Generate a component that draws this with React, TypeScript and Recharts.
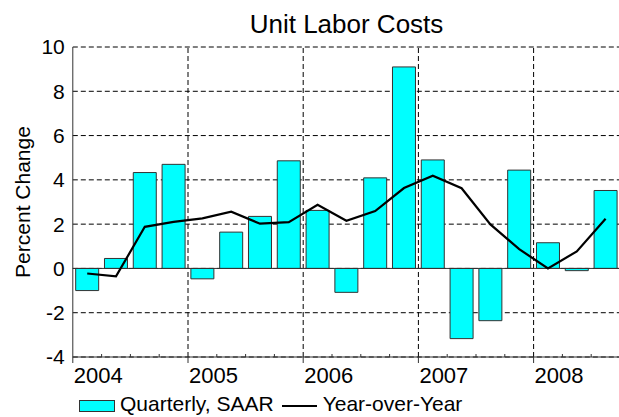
import { ComposedChart, Bar, Line, XAxis, YAxis, CartesianGrid, ReferenceLine, Legend } from 'recharts';

const quarters = [
    '2004 Q1', '2004 Q2', '2004 Q3', '2004 Q4',
    '2005 Q1', '2005 Q2', '2005 Q3', '2005 Q4',
    '2006 Q1', '2006 Q2', '2006 Q3', '2006 Q4',
    '2007 Q1', '2007 Q2', '2007 Q3', '2007 Q4',
    '2008 Q1', '2008 Q2', '2008 Q3',
];
const quarterlySaar = [-1.0, 0.45, 4.33, 4.7, -0.47, 1.64, 2.35, 4.86, 2.62, -1.08, 4.09, 9.1, 4.9, -3.17, -2.36, 4.44, 1.16, -0.1, 3.52];
const yearOverYear = [-0.23, -0.36, 1.88, 2.1, 2.26, 2.56, 2.02, 2.09, 2.87, 2.15, 2.59, 3.63, 4.19, 3.62, 1.99, 0.87, 0.0, 0.77, 2.24];
const yearStarts = ['2005 Q1', '2006 Q1', '2007 Q1', '2008 Q1'];
const yTicks = [-4, -2, 0, 2, 4, 6, 8, 10];

const data = quarters.map((q, i) => ({ quarter: q, saar: quarterlySaar[i], yoy: yearOverYear[i] }));

const FONT = '"Liberation Sans", Arial, sans-serif';

function QuarterTick(props: any) {
    const { x, y, payload } = props;
    const half = payload && payload.offset ? payload.offset : 14.4;
    const x0 = x - half;
    const label: string = payload.value;
    const isYearStart = label.endsWith('Q1');
    return (
        <g>
            {isYearStart ? (
                <line x1={x0} x2={x0} y1={y} y2={y + 6} stroke="#333" />
            ) : (
                <line x1={x0} x2={x0} y1={y - 3} y2={y} stroke="#333" />
            )}
            {isYearStart && (
                <text x={x0 + 1} y={y + 26} textAnchor="start" fontSize={22} fill="#000">
                    {label.slice(0, 4)}
                </text>
            )}
        </g>
    );
}

function AxisLabel(props: any) {
    const { viewBox } = props;
    const cx = viewBox.x + 16.7;
    const cy = viewBox.y + viewBox.height / 2;
    return (
        <text x={cx} y={cy} transform={`rotate(-90 ${cx} ${cy})`} textAnchor="middle" fontSize={21} fill="#000">
            Percent Change
        </text>
    );
}

function LegendContent(props: any) {
    const { payload } = props;
    return (
        <div style={{ display: 'flex', alignItems: 'center', height: 22, paddingLeft: 79, fontSize: 21, fontFamily: FONT, color: '#000' }}>
            {(payload || []).map((entry: any, i: number) => (
                <div key={i} style={{ display: 'flex', alignItems: 'center' }}>
                    {entry.type === 'line' ? (
                        <span style={{ display: 'inline-block', width: 35, height: 0, borderTop: '2px solid #000', margin: '0 6px 0 8px', position: 'relative', top: 2 }} />
                    ) : (
                        <span style={{ display: 'inline-block', width: 34, height: 10, background: '#00ffff', border: '1px solid #333', marginRight: 5, position: 'relative', top: 2 }} />
                    )}
                    <span>{entry.value}</span>
                </div>
            ))}
        </div>
    );
}

export default function App() {
    return (
        <div style={{ position: 'absolute', left: 0, top: 0, width: 619, height: 417, overflow: 'hidden', background: '#fff', fontFamily: FONT }}>
            <div style={{ position: 'absolute', left: 73, top: 9, width: 547, textAlign: 'center', fontSize: 26, lineHeight: '30px', color: '#000', zIndex: 2 }}>
                Unit Labor Costs
            </div>
            <ComposedChart width={630} height={417} data={data} margin={{ top: 47, right: 10, bottom: 2, left: 12.8 }} barCategoryGap="10%">
                <CartesianGrid vertical={false} stroke="#000" strokeDasharray="5 3" />
                {yearStarts.map((q) => (
                    <ReferenceLine key={q} x={q} position="start" stroke="#000" strokeDasharray="5 3" />
                ))}
                <XAxis
                    dataKey="quarter"
                    interval={0}
                    tickLine={false}
                    tickSize={0}
                    tickMargin={0}
                    height={36}
                    axisLine={{ stroke: '#333' }}
                    tick={<QuarterTick />}
                />
                <YAxis
                    domain={[-4, 10]}
                    ticks={yTicks}
                    width={60}
                    tickLine={false}
                    tickSize={0}
                    tickMargin={8}
                    axisLine={{ stroke: '#333' }}
                    tick={{ fontSize: 21, fill: '#000' }}
                    label={<AxisLabel />}
                />
                <ReferenceLine y={0} stroke="#333" />
                <Bar dataKey="saar" name="Quarterly, SAAR" fill="#00ffff" stroke="#333" strokeWidth={1} isAnimationActive={false} />
                <Line dataKey="yoy" name="Year-over-Year" type="linear" stroke="#000" strokeWidth={2.2} dot={false} isAnimationActive={false} />
                <Legend verticalAlign="bottom" height={22} content={<LegendContent />} wrapperStyle={{ left: 0, bottom: 2, width: 619, height: 22 }} />
            </ComposedChart>
        </div>
    );
}
